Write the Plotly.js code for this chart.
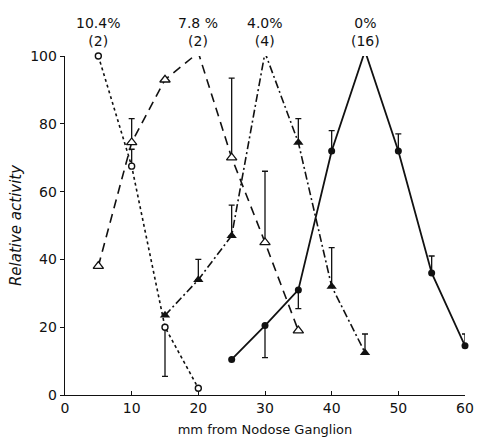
<!DOCTYPE html>
<html><head><meta charset="utf-8">
<script src="https://cdn.plot.ly/plotly-3.0.1.min.js"></script>
<style>html,body{margin:0;padding:0;background:#fff}</style>
</head><body><div id="chart" style="width:477px;height:440px"></div>
<script>
// distances (mm from nodose ganglion); NaN = no error bar
const xDotted = [5, 10, 15, 20];
const yDotted = [100, 67.5, 20, 2];
const errDottedPlus = [NaN, 5, 0, NaN];
const errDottedMinus = [NaN, 0, 14.5, NaN];

const xDashed = [5, 10, 15, 20, 25, 30, 35];
const yDashed = [38, 74.5, 93, 101, 70, 45, 19];
const errDashedPlus = [NaN, 7, NaN, NaN, 23.5, 21, NaN];
const errDashedMinus = [NaN, 0, NaN, NaN, 0, 0, NaN];

const xDashDot = [15, 20, 25, 30, 35, 40, 45];
const yDashDot = [23.5, 34, 47, 101, 74.5, 32, 12.5];
const errDashDotPlus = [NaN, 6, 9, NaN, 7, 11.5, 5.5];
const errDashDotMinus = [NaN, 0, 0, NaN, 0, 0, 0];

const xSolid = [25, 30, 35, 40, 45, 50, 55, 60];
const ySolid = [10.5, 20.5, 31, 72, 101.5, 72, 36, 14.5];
const errSolidPlus = [NaN, 0, 0, 6, NaN, 5, 5, 3.5];
const errSolidMinus = [NaN, 9.5, 5.5, 0, NaN, 0, 0, 0];

const labelX = [5, 20, 30, 45];
const labelText = ['10.4%<br>(2)', '7.8 %<br>(2)', '4.0%<br>(4)', '0%<br>(16)'];

const xTicks = [0, 10, 20, 30, 40, 50, 60];
const yTicks = [0, 20, 40, 60, 80, 100];

const FONT = 'DejaVu Sans, Liberation Sans, sans-serif';
function eb(p, m) {
  return {type: 'data', symmetric: false, array: p, arrayminus: m,
          color: '#111', thickness: 1.3, width: 3};
}
const traces = [
  {x: xDotted, y: yDotted, mode: 'lines+markers', cliponaxis: false,
   line: {color: '#111', width: 1.6, dash: 'dot'},
   marker: {symbol: 'circle', size: 6, color: '#fff', line: {width: 1.4, color: '#111'}},
   error_y: eb(errDottedPlus, errDottedMinus)},
  {x: xDashed, y: yDashed, mode: 'lines+markers', cliponaxis: false,
   line: {color: '#111', width: 1.6, dash: '9px,6px'},
   marker: {symbol: 'triangle-up', size: 9, color: '#fff', line: {width: 1.3, color: '#111'}},
   error_y: eb(errDashedPlus, errDashedMinus)},
  {x: xDashDot, y: yDashDot, mode: 'lines+markers', cliponaxis: false,
   line: {color: '#111', width: 1.6, dash: '8px,3px,2px,3px'},
   marker: {symbol: 'triangle-up', size: 9, color: '#111'},
   error_y: eb(errDashDotPlus, errDashDotMinus)},
  {x: xSolid, y: ySolid, mode: 'lines+markers', cliponaxis: false,
   line: {color: '#111', width: 1.8},
   marker: {symbol: 'circle', size: 7, color: '#111'},
   error_y: eb(errSolidPlus, errSolidMinus)}
];

const annotations = labelX.map((x, i) => ({
  x: x, y: 1, xref: 'x', yref: 'paper', yanchor: 'bottom', yshift: 5,
  text: labelText[i], showarrow: false,
  font: {family: FONT, size: 14, color: '#111'}
}));

const layout = {
  width: 477, height: 440,
  margin: {l: 65, r: 12, t: 56, b: 45},
  paper_bgcolor: '#fff', plot_bgcolor: '#fff',
  showlegend: false,
  font: {family: FONT, color: '#111'},
  xaxis: {range: [0, 60], tickvals: xTicks, ticks: 'inside', ticklen: 4,
          tickcolor: '#111', showgrid: false, zeroline: false, showline: true,
          linecolor: '#111', linewidth: 1.3, tickfont: {size: 14, family: FONT},
          title: {text: 'mm from Nodose Ganglion', font: {size: 13, family: FONT}, standoff: 9}},
  yaxis: {range: [0, 100], tickvals: yTicks, ticks: 'outside', ticklen: 4,
          tickcolor: '#111', showgrid: false, zeroline: false, showline: true,
          linecolor: '#111', linewidth: 1.3, tickfont: {size: 14, family: FONT},
          title: {text: '<i>Relative activity</i>', font: {size: 15, family: FONT}, standoff: 5}},
  annotations: annotations
};
Plotly.newPlot('chart', traces, layout, {displayModeBar: false, staticPlot: true});
</script></body></html>
